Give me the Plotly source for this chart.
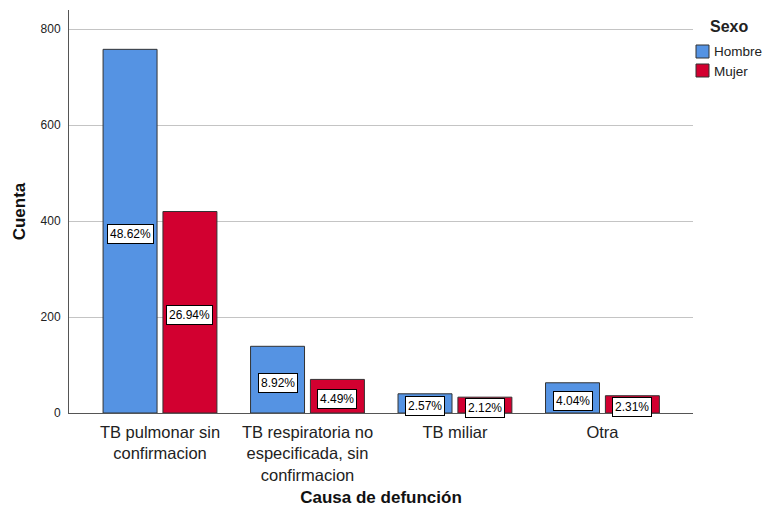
import plotly.graph_objects as go

# Counts (total = 1559)
causas = [
    "TB pulmonar sin<br>confirmacion",
    "TB respiratoria no<br>especificada, sin<br>confirmacion",
    "TB miliar",
    "Otra",
]
hombre = [758, 139, 40, 63]
mujer = [420, 70, 33, 36]
pct_hombre = ["48.62%", "8.92%", "2.57%", "4.04%"]
pct_mujer = ["26.94%", "4.49%", "2.12%", "2.31%"]
sexos = ["Hombre", "Mujer"]

FONT = "Liberation Sans, Arial, sans-serif"
BLUE = "#5593e3"
RED = "#d20030"
EDGE = "#333333"
TXT = "#222222"

W, H = 763, 507
ML, MR, MT, MB = 69, 70, 10, 94
PW, PH = W - ML - MR, H - MT - MB


def px_x(x):
    # pixel -> paper x
    return (x - ML) / PW


def px_y(y):
    # pixel -> paper y
    return (H - MB - y) / PH


pos = list(range(len(causas)))
bar_w = 0.366
offset_h = -0.386
offset_m = 0.02

fig = go.Figure()
fig.add_trace(go.Bar(
    x=pos, y=hombre, name=sexos[0], width=bar_w, offset=offset_h,
    marker=dict(color=BLUE, line=dict(color=EDGE, width=1)),
))
fig.add_trace(go.Bar(
    x=pos, y=mujer, name=sexos[1], width=bar_w, offset=offset_m,
    marker=dict(color=RED, line=dict(color=EDGE, width=1)),
))

# percentage boxes in the middle of each bar
for vals, pcts, off in [(hombre, pct_hombre, offset_h), (mujer, pct_mujer, offset_m)]:
    for i, (v, p) in enumerate(zip(vals, pcts)):
        fig.add_annotation(
            x=i + off + bar_w / 2, y=v / 2, yshift=-3, text=p, showarrow=False,
            font=dict(family=FONT, size=12, color="black"),
            bgcolor="white", bordercolor="black", borderwidth=1, borderpad=2,
        )

# legend drawn by hand (SPSS style: small gap between swatch and text)
fig.add_annotation(
    xref="paper", yref="paper", x=px_x(729), y=px_y(27),
    text="<b>Sexo</b>", showarrow=False, xanchor="center", yanchor="middle",
    font=dict(family=FONT, size=16, color=TXT),
)
for k, (name, col) in enumerate(zip(sexos, [BLUE, RED])):
    top = 45 + 19 * k
    fig.add_shape(
        type="rect", xref="paper", yref="paper",
        x0=px_x(696), x1=px_x(709), y0=px_y(top + 13), y1=px_y(top),
        fillcolor=col, line=dict(color=EDGE, width=1),
    )
    fig.add_annotation(
        xref="paper", yref="paper", x=px_x(712), y=px_y(top + 7),
        text=name, showarrow=False, xanchor="left", yanchor="middle",
        font=dict(family=FONT, size=13.5, color=TXT),
    )

fig.update_layout(
    width=W, height=H,
    margin=dict(l=ML, r=MR, t=MT, b=MB),
    plot_bgcolor="white", paper_bgcolor="white",
    barmode="group",
    font=dict(family=FONT, color=TXT),
    showlegend=False,
)
fig.update_xaxes(
    range=[-0.617, 3.614], tickvals=pos, ticktext=causas,
    tickfont=dict(family=FONT, size=16.5, color=TXT),
    showgrid=False, showline=True, linecolor="#555555", linewidth=1,
    ticks="", zeroline=False, ticklabelstandoff=4, automargin=False,
    title=dict(text="<b>Causa de defunción</b>", standoff=34,
               font=dict(family=FONT, size=17, color="#111111")),
)
fig.update_yaxes(
    range=[0, 840], tickvals=[0, 200, 400, 600, 800],
    tickfont=dict(family=FONT, size=12, color=TXT),
    showgrid=True, gridcolor="#c4c4c4", gridwidth=1,
    showline=True, linecolor="#555555", linewidth=1,
    zeroline=False, ticks="", ticklabelstandoff=5, automargin=False,
    title=dict(text="<b>Cuenta</b>", standoff=10,
               font=dict(family=FONT, size=17, color="#111111")),
)

# the page's default body margin would shift the figure by 8px
fig.write_html(
    "out.html",
    config={"displayModeBar": False},
    post_script="document.body.style.margin='0';",
)
